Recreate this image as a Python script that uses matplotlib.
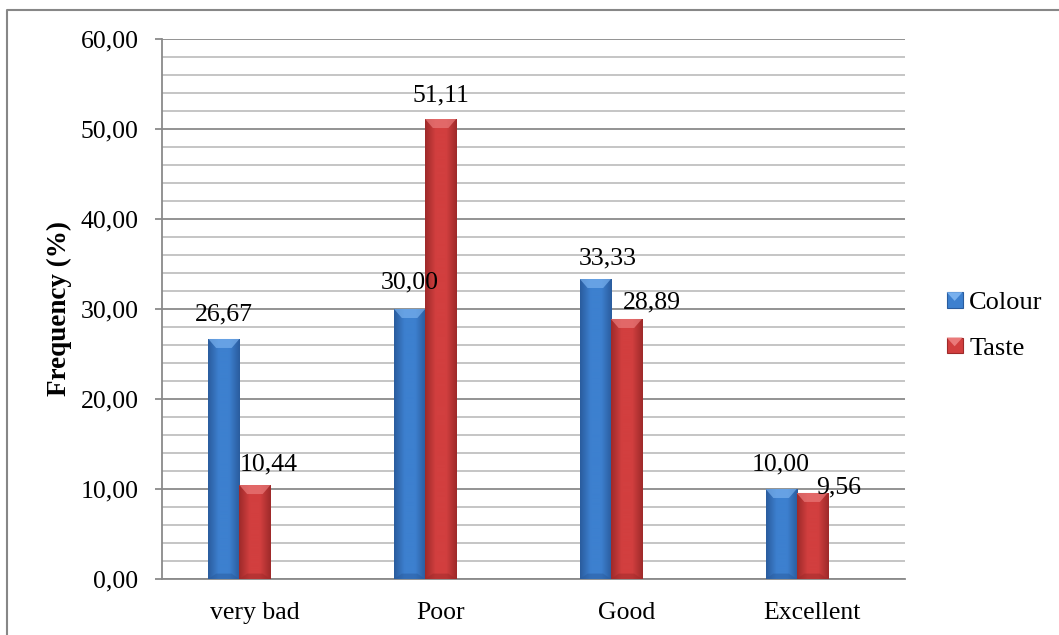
import numpy as np
import matplotlib.pyplot as plt
from matplotlib import rcParams
from matplotlib.colors import LinearSegmentedColormap
from matplotlib.patches import Polygon, Rectangle
from matplotlib.lines import Line2D
from matplotlib.ticker import MultipleLocator, FuncFormatter
from matplotlib.legend_handler import HandlerBase

rcParams['font.family'] = ['Liberation Serif', 'DejaVu Serif']

categories = ['very bad', 'Poor', 'Good', 'Excellent']
colour = [26.67, 30.00, 33.33, 10.00]
taste = [10.44, 51.11, 28.89, 9.56]
series_names = ['Colour', 'Taste']

# (dx, dy) in points, label centre relative to bar top centre
colour_offsets = [(0, 18), (0, 19), (9, 15), (0, 18)]
taste_offsets = [(10, 15), (0, 17), (18, 12), (19, 4)]

# edge / centre / top-bevel shades
styles = {
    'Colour': ('#2a5c9e', '#3d80cf', '#78b0ee'),
    'Taste': ('#9e2a2a', '#d23f3f', '#ea7a7a'),
}


def fmt(v):
    return f"{v:.2f}".replace('.', ',')


fig = plt.figure(figsize=(10.59, 6.35), dpi=100)
ax = fig.add_axes([0.153, 0.0882, 0.7016, 0.8504])

x = np.arange(len(categories))
w = 0.167

bars_c = ax.bar(x - w, colour, w, color=styles['Colour'][1], zorder=3, linewidth=0)
bars_t = ax.bar(x, taste, w, color=styles['Taste'][1], zorder=3, linewidth=0)


def shade_bars(bars, name):
    edge, mid, light = styles[name]
    cmap = LinearSegmentedColormap.from_list(name, [edge, mid, mid, edge])
    grad = np.linspace(0, 1, 64).reshape(1, -1)
    for b in bars:
        x0, y0 = b.get_x(), b.get_y()
        bw, bh = b.get_width(), b.get_height()
        im = ax.imshow(grad, cmap=cmap, extent=[x0, x0 + bw, y0, y0 + bh],
                       aspect='auto', zorder=3.5, interpolation='bicubic')
        im.set_clip_path(b)
        # top chamfer
        dx, dy = bw * 0.25, min(1.0, bh * 0.3)
        top = y0 + bh
        ax.add_patch(Polygon([(x0, top), (x0 + bw, top), (x0 + bw - dx, top - dy),
                              (x0 + dx, top - dy)], closed=True,
                             facecolor=light, edgecolor='none', alpha=0.7, zorder=4))
        # bottom chamfer
        ax.add_patch(Polygon([(x0, y0), (x0 + bw, y0), (x0 + bw - dx, y0 + 0.6),
                              (x0 + dx, y0 + 0.6)], closed=True,
                             facecolor=edge, edgecolor='none', alpha=0.5, zorder=4))


shade_bars(bars_c, 'Colour')
shade_bars(bars_t, 'Taste')

for bars, vals, offs in [(bars_c, colour, colour_offsets), (bars_t, taste, taste_offsets)]:
    for b, v, (ox, oy) in zip(bars, vals, offs):
        ax.annotate(fmt(v), (b.get_x() + b.get_width() / 2, v),
                    xytext=(ox, oy), textcoords='offset points',
                    ha='center', va='center', fontsize=18.5, color='black', zorder=6)

ax.set_xlim(-0.5, len(categories) - 0.5)
ax.set_ylim(0, 60)
ax.yaxis.set_major_locator(MultipleLocator(10))
ax.yaxis.set_minor_locator(MultipleLocator(2))
ax.yaxis.set_major_formatter(FuncFormatter(lambda v, p: fmt(v)))
ax.grid(which='minor', axis='y', color='#c0c0c0', linewidth=1.3, zorder=0)
ax.grid(which='major', axis='y', color='#8a8a8a', linewidth=1.3, zorder=0)

ax.set_xticks(x)
ax.set_xticklabels(categories)
ax.tick_params(axis='x', length=0, pad=16.5, labelsize=18.5)
ax.tick_params(axis='y', which='major', length=5, width=1.3, color='#8a8a8a', pad=12, labelsize=18.5)
ax.tick_params(axis='y', which='minor', length=0)

for s in ['top', 'right']:
    ax.spines[s].set_visible(False)
for s in ['left', 'bottom']:
    ax.spines[s].set_color('#8a8a8a')
    ax.spines[s].set_linewidth(1.3)

ax.set_ylabel('Frequency (%)', fontsize=19.5, fontweight='bold')
ax.yaxis.set_label_coords(-0.121, 0.5)


class BevelHandler(HandlerBase):
    def create_artists(self, legend, orig_handle, xdescent, ydescent, width, height, fontsize, trans):
        edge, mid, light = styles[orig_handle.get_label()]
        s = min(width, height)
        x0, y0 = -xdescent, -ydescent + (height - s) / 2
        sq = Rectangle((x0, y0), s, s, facecolor=mid, edgecolor=edge, linewidth=0.8, transform=trans)
        tri = Polygon([(x0, y0 + s), (x0 + s, y0 + s), (x0 + s / 2, y0 + s * 0.45)],
                      closed=True, facecolor=light, edgecolor='none', transform=trans)
        return [sq, tri]


handles = [Rectangle((0, 0), 1, 1, label=n) for n in series_names]
fig.legend(handles, series_names, handler_map={Rectangle: BevelHandler()},
           loc='center left', bbox_to_anchor=(0.884, 0.487), frameon=False,
           fontsize=19, handlelength=0.6, handleheight=0.6, handletextpad=0.25,
           labelspacing=0.86, borderaxespad=0)

# outer chart frame
fig.add_artist(Line2D([7 / 1059, 7 / 1059, 1.0], [0.0, 1 - 9.5 / 635, 1 - 9.5 / 635],
                      transform=fig.transFigure, color='#878787', linewidth=1.5))

fig.savefig('out.png', dpi=100)
